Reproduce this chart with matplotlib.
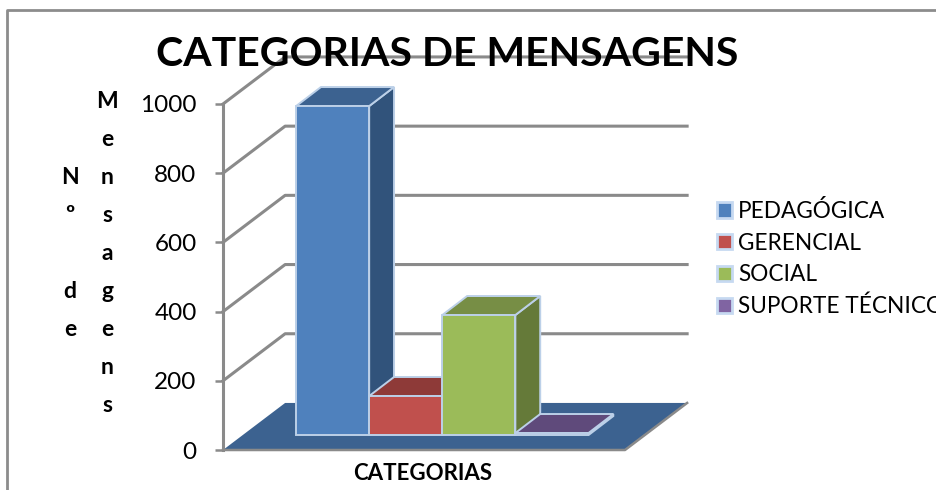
import matplotlib
matplotlib.use("Agg")
import matplotlib.pyplot as plt
from matplotlib.patches import Polygon, Patch
from matplotlib.lines import Line2D

categories = ["PEDAGÓGICA", "GERENCIAL", "SOCIAL", "SUPORTE TÉCNICO"]
values = [951, 113, 347, 6]
y_ticks = [0, 200, 400, 600, 800, 1000]

front_colors = ["#4f81bd", "#c0504d", "#9bbb59", "#8064a2"]
side_colors = ["#31537b", "#8e3a38", "#657a39", "#5f4a7b"]
top_colors = ["#3c6290", "#8e3a38", "#778e45", "#5f4a7b"]
edge_color = "#bcd0e8"
grid_color = "#8a8a8a"
floor_color = "#3c6290"

W, H = 936, 490
plt.rcParams["font.family"] = ["Lato", "DejaVu Sans"]

fig = plt.figure(figsize=(W / 100, H / 100), dpi=100)


def px(x, y):
    return x / W, 1 - y / H


# axes box: x -1..4.5 is 223..625 px, y 0..1000 is 450..104 px
left, bottom = px(223, 450)
right, top = px(625, 104)
ax = fig.add_axes([left, bottom, right - left, top - bottom])
ax.set_xlim(-1, 4.5)
ax.set_ylim(0, 1000)
ax.patch.set_visible(False)

# depth offsets of the fake 3d look, in data units
wall_dx, wall_dy = 0.85, 136
bar_dx, bar_dy = 0.34, 55
bar_base = 43

xl, xr = ax.get_xlim()

# floor
ax.add_patch(Polygon([(xl, 0), (xr, 0), (xr + wall_dx, wall_dy), (xl + wall_dx, wall_dy)],
                     closed=True, facecolor=floor_color, edgecolor="none", clip_on=False, zorder=2))
ax.plot([xl, xr, xr + wall_dx], [0, 0, wall_dy], color=grid_color, lw=1.8, clip_on=False, zorder=2)

# walls
for t in y_ticks[1:]:
    ax.plot([xl, xl + wall_dx, xr + wall_dx], [t, t + wall_dy, t + wall_dy],
            color=grid_color, lw=2.2, clip_on=False, zorder=1)

# bars, left to right so each one covers the previous
for i, v in enumerate(values):
    z = 3 + i
    top_y = bar_base + v
    ax.add_patch(Polygon([(i + 1, bar_base), (i + 1 + bar_dx, bar_base + bar_dy),
                          (i + 1 + bar_dx, top_y + bar_dy), (i + 1, top_y)],
                         closed=True, facecolor=side_colors[i], edgecolor=edge_color, lw=1.4, clip_on=False, zorder=z))
    ax.add_patch(Polygon([(i, top_y), (i + bar_dx, top_y + bar_dy),
                          (i + 1 + bar_dx, top_y + bar_dy), (i + 1, top_y)],
                         closed=True, facecolor=top_colors[i], edgecolor=edge_color, lw=1.4, clip_on=False, zorder=z))
    ax.bar(i + 0.5, v, width=1, bottom=bar_base, color=front_colors[i], edgecolor=edge_color, lw=1.4, zorder=z)

for s in ["top", "right", "bottom"]:
    ax.spines[s].set_visible(False)
ax.spines["left"].set_color(grid_color)
ax.spines["left"].set_linewidth(2.2)
ax.set_xticks([])
ax.set_yticks(y_ticks)
ax.tick_params(axis="y", length=6, width=1.8, color=grid_color, labelsize=17.5, pad=13)

# chart frame
fig.add_artist(Line2D([7 / W, 7 / W, 1], [0, 1 - 10 / H, 1 - 10 / H], color="#8c8c8c", lw=2))

x, y = px(447, 54)
fig.text(x, y, "CATEGORIAS DE MENSAGENS", fontsize=29.5, fontweight="bold", ha="center", va="center", zorder=10)
x, y = px(423, 473)
fig.text(x, y, "CATEGORIAS", fontsize=16, fontweight="bold", ha="center", va="center")

# stacked y axis title, two columns of letters
for col_x, col_text in [(70, "Nº de"), (107, "Mensagens")]:
    col_y = 177 if col_x == 70 else 101
    for ch in col_text:
        if ch != " ":
            x, y = px(col_x, col_y)
            fig.text(x, y, ch, fontsize=16.5, fontweight="bold", ha="center", va="center")
        col_y += 38

handles = [Patch(facecolor=c, edgecolor="#c6d9f1", lw=2) for c in front_colors]
x, y = px(717, 200)
fig.legend(handles, categories, loc="upper left", bbox_to_anchor=(x, y), frameon=False, fontsize=16.3,
           handlelength=0.66, handleheight=0.66, handletextpad=0.27, labelspacing=0.47, borderpad=0, borderaxespad=0)

fig.savefig("out.png", dpi=100)
